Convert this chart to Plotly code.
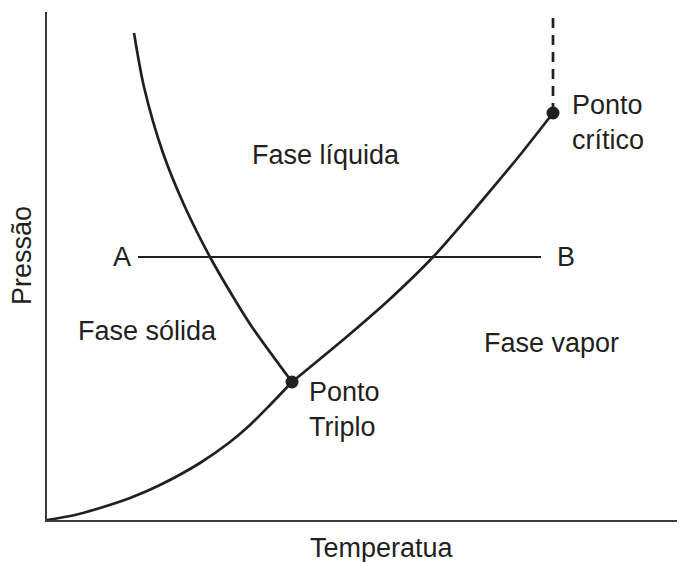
import plotly.graph_objects as go

# phase diagram, arbitrary units (temperature, pressure)
vap_low_t = [0, 28, 53, 83, 113, 153, 183, 203, 223, 245]
vap_low_p = [0, 5, 12, 22, 35, 57, 78, 95, 115, 138]

vap_up_t = [245, 273, 303, 343, 386, 433, 473, 506]
vap_up_p = [138, 161, 186, 221, 263, 317, 365, 407]

fus_t = [87, 97, 116, 138, 163, 188, 205, 245]
fus_p = [487, 433, 367, 313, 263, 220, 193, 138]

crit_t = [506, 506]
crit_p = [407, 507]

ab_t = [91, 494]
ab_p = [263, 263]

pts_t = [245, 506]
pts_p = [138, 407]

ink = '#231f20'
font = dict(family='Liberation Sans, Arial', size=27, color=ink)

fig = go.Figure()
for t, p in [(vap_low_t, vap_low_p), (vap_up_t, vap_up_p), (fus_t, fus_p)]:
    fig.add_trace(go.Scatter(x=t, y=p, mode='lines', line_shape='spline',
                             line=dict(color=ink, width=2.7, smoothing=0.8),
                             hoverinfo='skip'))
fig.add_trace(go.Scatter(x=crit_t, y=crit_p, mode='lines',
                         line=dict(color=ink, width=2.7, dash='10px,7px')))
fig.add_trace(go.Scatter(x=ab_t, y=ab_p, mode='lines',
                         line=dict(color=ink, width=2.2)))
fig.add_trace(go.Scatter(x=pts_t, y=pts_p, mode='markers',
                         marker=dict(color=ink, size=13)))

labels = [
    ('A', 75, 263, 'center'),
    ('B', 519, 263, 'center'),
    ('Fase líquida', 279, 365, 'center'),
    ('Fase sólida', 100, 189, 'center'),
    ('Fase vapor', 504, 177, 'center'),
    ('Ponto<br>Triplo', 260, 111, 'left'),
    ('Ponto<br>crítico', 523, 398, 'left'),
]
for text, t, p, anchor in labels:
    fig.add_annotation(x=t, y=p, text=text, showarrow=False, font=font,
                       xanchor=anchor, yanchor='middle', align='left')

fig.add_annotation(x=335, y=-0.055, yref='paper', text='Temperatua',
                   showarrow=False, font=font, yanchor='middle')
fig.add_annotation(x=-0.039, xref='paper', y=264, text='Pressão', textangle=-90,
                   showarrow=False, font=font, xanchor='center')

fig.update_xaxes(range=[0, 638], showline=True, linecolor='#3a3a3a', linewidth=2,
                 showgrid=False, zeroline=False, showticklabels=False, ticks='')
fig.update_yaxes(range=[0, 508], showline=True, linecolor='#3a3a3a', linewidth=2,
                 showgrid=False, zeroline=False, showticklabels=False, ticks='')
# page body adds an 8px offset, so the figure is 8px smaller and margins shifted
fig.update_layout(width=677, height=554, showlegend=False,
                  margin=dict(l=39, r=0, t=4, b=42),
                  plot_bgcolor='white', paper_bgcolor='white')

fig.write_html("out.html")
